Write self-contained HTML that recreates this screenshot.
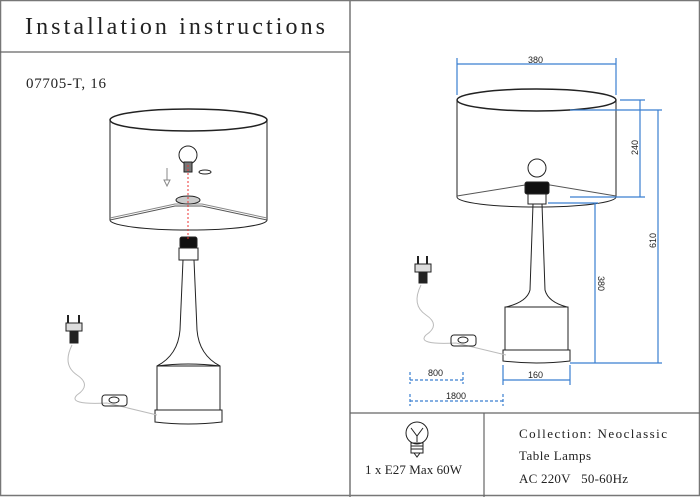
<!DOCTYPE html>
<html><head><style>
body{margin:0;background:#fff}
svg{display:block}
.s{font-family:"Liberation Serif",serif;fill:#222}
.d{font-family:"Liberation Sans",sans-serif;fill:#222;font-size:9px}
</style></head><body>
<svg width="700" height="497" viewBox="0 0 700 497" xmlns="http://www.w3.org/2000/svg">
<rect x="0.5" y="0.5" width="699" height="495" fill="none" stroke="#777" stroke-width="1.5"/>
<line x1="350" y1="0" x2="350" y2="497" stroke="#777" stroke-width="1.5"/>
<line x1="0" y1="52" x2="350" y2="52" stroke="#666" stroke-width="1.2"/>
<line x1="350" y1="413" x2="700" y2="413" stroke="#666" stroke-width="1.2"/>
<line x1="484" y1="413" x2="484" y2="497" stroke="#666" stroke-width="1.2"/>
<text class="s" x="25" y="34" font-size="24" textLength="300" lengthAdjust="spacing">Installation instructions</text>
<text class="s" x="26" y="88" font-size="15" textLength="80" lengthAdjust="spacing">07705-T, 16</text>

<!-- left lamp -->
<g fill="none" stroke="#222" stroke-width="1">
<ellipse cx="188.5" cy="120" rx="78.5" ry="11" stroke-width="1.5"/>
<line x1="110" y1="120" x2="110" y2="220"/>
<line x1="267" y1="120" x2="267" y2="220"/>
<path d="M110 220 A78.5 10 0 0 0 267 220"/>
<path d="M110 220 L175 206 L202 206 L267 220" stroke="#555"/>
<path d="M110 218 L175 204 L202 204 L267 218" stroke="#888"/>
<ellipse cx="188" cy="200" rx="12" ry="4" fill="#ccc"/>
<circle cx="188" cy="155" r="9"/>
<rect x="184" y="162" width="8" height="10" fill="#777"/>
<ellipse cx="205" cy="172" rx="6" ry="2"/>
<path d="M167 168 v12 M164 180 l3 6 l3 -6z" stroke="#888"/>
<rect x="180" y="237" width="17" height="11" rx="2" fill="#111"/>
<rect x="179" y="248" width="19" height="12"/>
<path d="M183 260 L180 330 Q178 355 157 366 M194 260 L197 330 Q199 355 220 366"/>
<path d="M157 366 Q188 362 220 366"/>
<rect x="157" y="366" width="63" height="44"/>
<path d="M155 410 h67 v12 Q188 426 155 422z"/>
<path d="M72 345 q-10 20 5 30 q15 10 0 20 q-10 10 30 8 l50 12" stroke="#bbb"/>
<rect x="102" y="395" width="25" height="11" rx="3"/>
<ellipse cx="114" cy="400" rx="5" ry="3"/>
<path d="M68 315 v8 M79 315 v8" stroke-width="2"/>
<rect x="66" y="323" width="16" height="8" fill="#ddd"/>
<rect x="70" y="331" width="8" height="12" fill="#222"/>
</g>
<line x1="188" y1="165" x2="188" y2="240" stroke="#e33" stroke-dasharray="2,2"/>

<!-- right lamp -->
<g fill="none" stroke="#222" stroke-width="1">
<ellipse cx="536.5" cy="100" rx="79.5" ry="11" stroke-width="1.5"/>
<line x1="457" y1="100" x2="457" y2="197"/>
<line x1="616" y1="100" x2="616" y2="197"/>
<path d="M457 197 A79.5 10 0 0 0 616 197"/>
<path d="M457 196 L525 185 L550 185 L616 196" stroke="#555"/>
<circle cx="537" cy="168" r="9"/>
<rect x="525" y="182" width="24" height="12" rx="2" fill="#111"/>
<rect x="528" y="194" width="18" height="10"/>
<path d="M533 204 L530 290 Q527 302 506 307 M542 204 L545 290 Q548 302 567 307"/>
<rect x="505" y="307" width="63" height="43"/>
<path d="M503 350 h67 v11 Q536 365 503 361z"/>
<path d="M421 285 q-10 20 5 30 q15 10 0 20 q-10 10 30 8 l50 12" stroke="#bbb"/>
<rect x="451" y="335" width="25" height="11" rx="3"/>
<ellipse cx="463" cy="340" rx="5" ry="3"/>
<path d="M418 256 v8 M427 256 v8" stroke-width="2"/>
<rect x="415" y="264" width="16" height="8" fill="#ddd"/>
<rect x="419" y="272" width="8" height="11" fill="#222"/>
</g>
<g stroke="#3a7fd0" stroke-width="1.2" fill="none">
<line x1="457" y1="64" x2="616" y2="64"/><line x1="457" y1="58" x2="457" y2="95"/><line x1="616" y1="58" x2="616" y2="95"/>
<line x1="620" y1="100" x2="645" y2="100"/><line x1="570" y1="197" x2="645" y2="197"/><line x1="640" y1="100" x2="640" y2="197"/>
<line x1="570" y1="110" x2="662" y2="110"/><line x1="658" y1="110" x2="658" y2="363"/><line x1="570" y1="363" x2="662" y2="363"/>
<line x1="548" y1="203" x2="598" y2="203"/><line x1="595" y1="203" x2="595" y2="363"/>
<line x1="503" y1="380" x2="570" y2="380"/><line x1="503" y1="365" x2="503" y2="385"/><line x1="570" y1="365" x2="570" y2="385"/>
<g stroke-dasharray="3,2"><line x1="410" y1="380" x2="463" y2="380"/><line x1="410" y1="372" x2="410" y2="384"/><line x1="463" y1="372" x2="463" y2="384"/>
<line x1="410" y1="401" x2="503" y2="401"/><line x1="410" y1="394" x2="410" y2="406"/><line x1="503" y1="394" x2="503" y2="406"/></g>
</g>
<text class="d" x="528" y="63">380</text>
<text class="d" x="528" y="378">160</text>
<text class="d" x="428" y="376">800</text>
<text class="d" x="446" y="399">1800</text>
<text class="d" transform="translate(638,155) rotate(-90)">240</text>
<text class="d" transform="translate(656,248) rotate(-90)">610</text>
<text class="d" transform="translate(598,276) rotate(90)">380</text>

<!-- bottom bulb -->
<g fill="none" stroke="#222" stroke-width="1">
<circle cx="417" cy="433" r="11"/>
<path d="M411 428 l6 8 l6 -8 M417 436 v6"/>
<rect x="411" y="443" width="12" height="10"/>
<path d="M411 446 h12 M411 449 h12 M414 453 l3 4 l3 -4"/>
</g>
<text class="s" x="365" y="474" font-size="13" textLength="97" lengthAdjust="spacing">1 x E27 Max 60W</text>
<text class="s" x="519" y="438" font-size="13" textLength="148" lengthAdjust="spacing">Collection: Neoclassic</text>
<text class="s" x="519" y="460" font-size="13" textLength="72" lengthAdjust="spacing">Table Lamps</text>
<text class="s" x="519" y="483" font-size="13" textLength="109" lengthAdjust="spacing">AC 220V&#160;&#160;&#160;50-60Hz</text>
</svg>
</body></html>
